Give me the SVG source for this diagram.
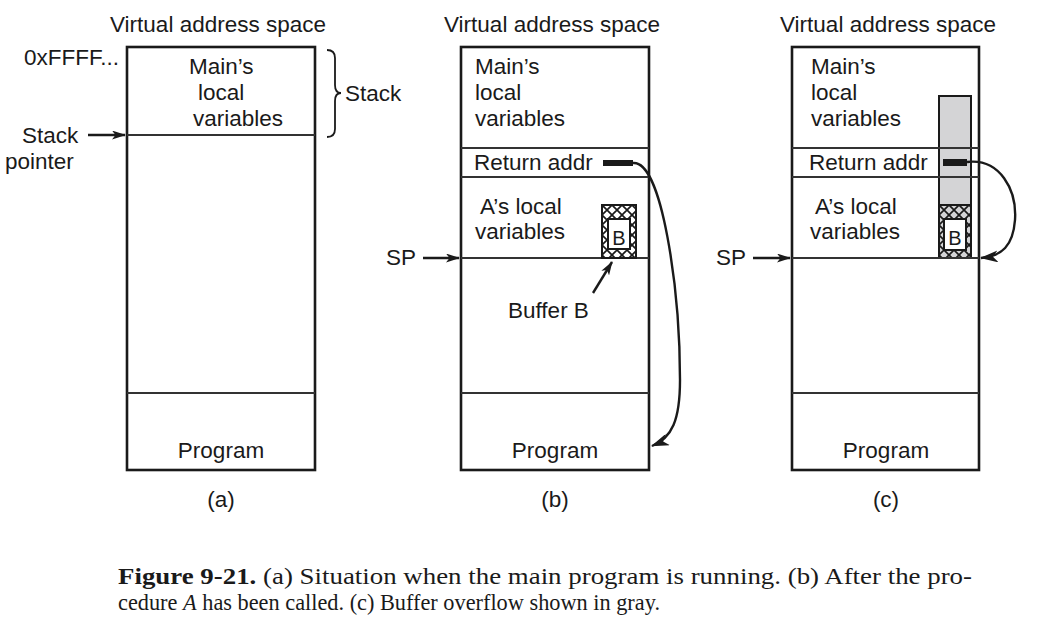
<svg xmlns="http://www.w3.org/2000/svg" width="1041" height="637" viewBox="0 0 1041 637">
<style>
text{font-family:"Liberation Sans",Arial,sans-serif;font-size:22.5px;fill:#1a1a1a}
.box{fill:none;stroke:#1a1a1a;stroke-width:2.6}
.div{stroke:#333;stroke-width:2}
.cap{font-family:"Liberation Serif","Times New Roman",serif;font-size:23px}
.mid{text-anchor:middle}
.arr{fill:none;stroke:#1a1a1a;stroke-width:2.4}
</style>
<defs>
<marker id="ah" viewBox="0 0 14 9" refX="13" refY="4.5" markerWidth="14" markerHeight="9" markerUnits="userSpaceOnUse" orient="auto">
<path d="M0,0 L14,4.5 L0,9 L3.5,4.5 Z" fill="#1a1a1a"/>
</marker>
<marker id="ah2" viewBox="0 0 18 12" refX="17" refY="6" markerWidth="18" markerHeight="12" markerUnits="userSpaceOnUse" orient="auto">
<path d="M0,0 L18,6 L0,12 L5,6 Z" fill="#1a1a1a"/>
</marker>
<pattern id="hatchW" width="10" height="10" patternUnits="userSpaceOnUse" x="602" y="205">
<rect width="10" height="10" fill="#fff"/>
<path d="M0,0 L10,10 M10,0 L0,10" stroke="#1a1a1a" stroke-width="1.7"/>
</pattern>
<pattern id="hatchG" width="10" height="10" patternUnits="userSpaceOnUse" x="939" y="205">
<rect width="10" height="10" fill="#d4d4d6"/>
<path d="M0,0 L10,10 M10,0 L0,10" stroke="#1a1a1a" stroke-width="1.7"/>
</pattern>
</defs>

<g id="panel-a">
<text class="mid" x="218" y="32">Virtual address space</text>
<rect class="box" x="127" y="47" width="188" height="423"/>
<line class="div" x1="127" y1="135" x2="315" y2="135"/>
<line class="div" x1="127" y1="393" x2="315" y2="393"/>
<text x="189" y="74">Main’s</text>
<text x="198" y="100">local</text>
<text x="193" y="126">variables</text>
<text x="221" y="458" class="mid">Program</text>
<text x="221" y="507" class="mid">(a)</text>
<text x="24" y="65">0xFFFF...</text>
<text x="22" y="143">Stack</text>
<text x="5" y="169">pointer</text>
<path d="M327,50 Q335,50 335,58 L335,85 Q335,93 341,93 Q335,93 335,101 L335,129 Q335,137 327,137" fill="none" stroke="#1a1a1a" stroke-width="1.8"/>
<text x="345" y="101">Stack</text>
</g>

<g id="panel-b">
<text class="mid" x="552" y="32">Virtual address space</text>
<rect class="box" x="461" y="47" width="188" height="423"/>
<line class="div" x1="461" y1="148" x2="649" y2="148"/>
<line class="div" x1="461" y1="177" x2="649" y2="177"/>
<line class="div" x1="461" y1="258" x2="649" y2="258"/>
<line class="div" x1="461" y1="393" x2="649" y2="393"/>
<text x="475" y="74">Main’s</text>
<text x="475" y="100">local</text>
<text x="475" y="126">variables</text>
<text x="474" y="170">Return addr</text>
<rect x="603" y="160" width="30" height="6" fill="#1a1a1a"/>
<text x="480" y="214">A’s local</text>
<text x="475" y="239">variables</text>
<rect x="602" y="205" width="34" height="53" fill="url(#hatchW)" stroke="#1a1a1a" stroke-width="2"/>
<rect x="608" y="219" width="22" height="30" fill="#fff" stroke="#1a1a1a" stroke-width="2"/>
<text x="619" y="245" class="mid" style="font-size:20px">B</text>
<text x="555" y="458" class="mid">Program</text>
<text x="555" y="507" class="mid">(b)</text>
<text x="386" y="265">SP</text>
<text x="508" y="318">Buffer B</text>
</g>

<g id="panel-c">
<text class="mid" x="888" y="32">Virtual address space</text>
<rect x="939" y="96" width="32" height="109" fill="#d4d4d6" stroke="#1a1a1a" stroke-width="2"/>
<rect x="939" y="205" width="32" height="53" fill="url(#hatchG)" stroke="#1a1a1a" stroke-width="2"/>
<rect x="944" y="219" width="22" height="31" fill="#fff" stroke="#1a1a1a" stroke-width="2"/>
<text x="955" y="245" class="mid" style="font-size:20px">B</text>
<rect class="box" x="792" y="47" width="187" height="423"/>
<line class="div" x1="792" y1="148" x2="979" y2="148"/>
<line class="div" x1="792" y1="177" x2="979" y2="177"/>
<line class="div" x1="792" y1="258" x2="979" y2="258"/>
<line class="div" x1="792" y1="393" x2="979" y2="393"/>
<text x="811" y="74">Main’s</text>
<text x="811" y="100">local</text>
<text x="811" y="126">variables</text>
<text x="809" y="170">Return addr</text>
<rect x="943" y="159" width="24" height="7" fill="#1a1a1a"/>
<text x="815" y="214">A’s local</text>
<text x="810" y="239">variables</text>
<text x="886" y="458" class="mid">Program</text>
<text x="886" y="507" class="mid">(c)</text>
<text x="716" y="265">SP</text>
</g>

<g id="connectors">
<line class="arr" x1="88" y1="135" x2="125" y2="135" marker-end="url(#ah)"/>
<line class="arr" x1="423" y1="258" x2="459" y2="258" marker-end="url(#ah)"/>
<line class="arr" x1="753" y1="258" x2="790" y2="258" marker-end="url(#ah)"/>
<line class="arr" x1="593" y1="293" x2="612" y2="262" marker-end="url(#ah)"/>
<path class="arr" d="M633,163 C662,160 680,290 680,380 C680,420 672,438 652,446" marker-end="url(#ah2)"/>
<path class="arr" d="M967,162 C1000,158 1017,190 1015,220 C1013,246 1002,256 981,258" marker-end="url(#ah2)"/>
</g>

<g id="caption">
<text class="cap" x="118" y="584" textLength="854" lengthAdjust="spacingAndGlyphs"><tspan font-weight="bold">Figure 9-21.</tspan>  (a) Situation when the main program is running.  (b) After the pro-</text>
<text class="cap" x="118" y="610" textLength="542" lengthAdjust="spacingAndGlyphs">cedure <tspan font-style="italic">A</tspan> has been called.  (c) Buffer overflow shown in gray.</text>
</g>
</svg>
